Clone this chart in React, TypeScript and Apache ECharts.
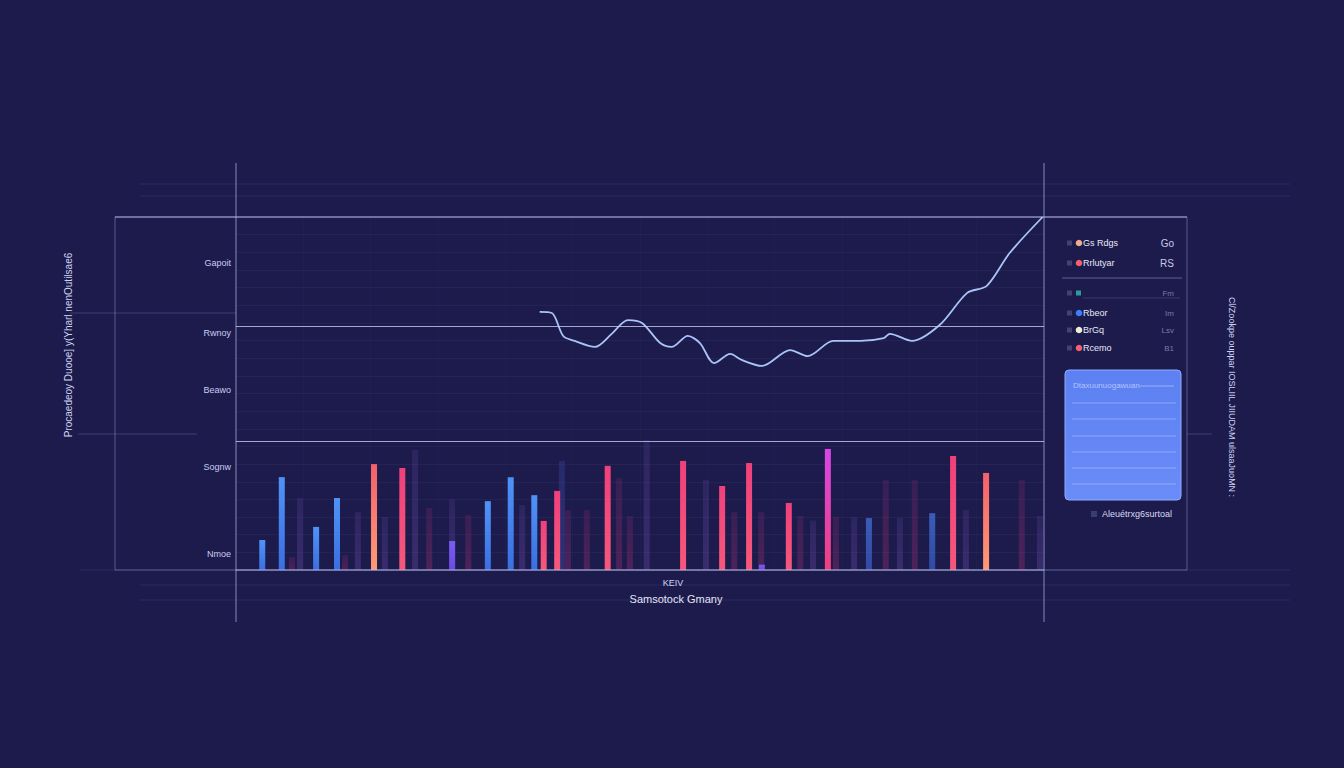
import React, { useEffect, useRef } from "react";
import * as echarts from "echarts";

// ---- data ----
const yTickValues = [87, 67, 51, 29.2, 4.5];
const yTickLabels = ["Gapoit", "Rwnoy", "Beawo", "Sognw", "Nmoe"];

const brightX = [3.9, 6.8, 11.9, 15.0, 20.5, 24.7, 32.1, 37.4, 40.8, 44.3, 45.7, 47.7, 55.2, 66.4, 72.2, 76.2, 78.1, 82.1, 87.9, 94.0, 103.4, 106.5, 111.4];
const brightV = [8.5, 26.3, 12.2, 20.4, 30.0, 28.9, 8.2, 19.5, 26.3, 21.2, 13.9, 22.4, 29.5, 30.9, 23.8, 30.3, 1.5, 19.0, 34.3, 14.7, 16.1, 32.3, 27.5];
const brightKind = ["b", "b", "b", "b", "o", "p", "v", "b", "b", "b", "p", "p", "p", "p", "p", "p", "v", "p", "m", "d", "d", "p", "o"];

const faintX = [8.3, 9.5, 16.2, 18.1, 22.1, 26.6, 28.7, 32.1, 34.5, 42.5, 48.4, 49.3, 52.1, 56.9, 58.5, 61.0, 69.8, 74.0, 78.0, 83.8, 85.7, 89.1, 91.8, 96.5, 98.6, 100.8, 108.4, 116.7, 119.4];
const faintV = [3.7, 20.4, 4.2, 16.4, 15.0, 34.0, 17.6, 20.0, 15.6, 18.4, 30.9, 17.0, 17.0, 26.0, 15.3, 36.8, 25.5, 16.4, 16.4, 15.3, 14.0, 15.0, 15.0, 25.5, 14.7, 25.5, 17.0, 25.5, 15.3];
const faintKind = ["r", "v", "r", "v", "v", "v", "r", "v", "r", "v", "n", "r", "r", "r", "r", "v", "v", "r", "r", "r", "v", "r", "v", "r", "v", "r", "v", "r", "v"];

const lineX = [45.1, 46.9, 48.6, 50.3, 53.3, 55.8, 58.2, 60.3, 63.0, 64.7, 67.1, 68.9, 71.0, 73.4, 75.1, 78.1, 82.3, 84.9, 88.7, 92.7, 96.2, 97.1, 100.4, 104.5, 108.6, 111.5, 114.9, 119.8];
const lineV = [73.1, 72.8, 66.3, 64.9, 63.2, 66.9, 70.8, 70.0, 64.3, 63.2, 66.3, 64.3, 58.6, 61.2, 59.5, 57.8, 62.3, 60.6, 64.9, 64.9, 65.7, 66.9, 64.9, 69.4, 78.5, 80.5, 89.8, 100];

const refLines = [69.1, 36.5];

const legendNames = ["Gs Rdgs", "Rrlutyar", "", "Rbeor", "BrGq", "Rcemo"];
const legendValues = ["Go", "RS", "Fm", "Im", "Lsv", "B1"];
const legendColors = ["#f4a98a", "#f0606e", "#2a9d9a", "#3d7ff5", "#f5edd0", "#f0606e"];

const titleLeft = "Procaedeoy Duooe] y(Yharl nenOutilsae6";
const titleRight = "Cl/Zookpe ouppar IOSLIIL JIIUDAM ulsaaJuoMN :";
const xName = "KEIV";
const xTitle = "Samsotock Gmany";
const boxHeader = "Dtaxuunuogawuan";
const boxCaption = "Aleuétrxg6surtoal";

const FONT = "Liberation Sans, Arial, sans-serif";

function grad(top: string, bottom: string) {
  return new echarts.graphic.LinearGradient(0, 0, 0, 1, [
    { offset: 0, color: top },
    { offset: 1, color: bottom },
  ]);
}

const brightStyles: Record<string, any> = {
  b: () => grad("#4f93f7", "#3b6fe0"),
  o: () => grad("#f5606a", "#ff9a72"),
  p: () => grad("#f0407c", "#f5587a"),
  m: () => grad("#d646e6", "#f0407c"),
  v: () => grad("#7a5cf5", "#6a4ae0"),
  d: () => grad("rgba(70,120,230,0.7)", "rgba(60,100,210,0.65)"),
};
const faintStyles: Record<string, () => any> = {
  r: () => grad("rgba(150,45,110,0.22)", "rgba(150,45,110,0.4)"),
  v: () => grad("rgba(110,75,170,0.2)", "rgba(110,75,170,0.36)"),
  n: () => grad("rgba(60,70,160,0.35)", "rgba(60,70,160,0.5)"),
};

export default function App() {
  const ref = useRef<HTMLDivElement>(null);
  useEffect(() => {
    document.body.style.margin = "0";
    const chart = echarts.init(ref.current!, null, { renderer: "svg" });
    const lineCol = "rgba(170,176,225,0.75)";
    const faintCol = "rgba(120,126,200,0.16)";
    const graphics: any[] = [];
    graphics.push({ type: "rect", shape: { x: 115, y: 217, width: 1072, height: 353 }, style: { fill: "none", stroke: "rgba(150,156,210,0.5)", lineWidth: 1 }, z: 1 });
    graphics.push({ type: "line", shape: { x1: 115, y1: 217, x2: 1187, y2: 217 }, style: { stroke: "rgba(185,190,235,0.8)", lineWidth: 1.2 }, z: 2 });
    graphics.push({ type: "line", shape: { x1: 236, y1: 163, x2: 236, y2: 622 }, style: { stroke: lineCol, lineWidth: 1 }, z: 2 });
    graphics.push({ type: "line", shape: { x1: 1044, y1: 163, x2: 1044, y2: 622 }, style: { stroke: lineCol, lineWidth: 1 }, z: 2 });
    [184, 196, 585, 600].forEach((y) => graphics.push({ type: "line", shape: { x1: 140, y1: y, x2: 1290, y2: y }, style: { stroke: faintCol, lineWidth: 1 }, z: 0 }));
    graphics.push({ type: "line", shape: { x1: 80, y1: 570, x2: 1290, y2: 570 }, style: { stroke: faintCol, lineWidth: 1 }, z: 0 });
    graphics.push({ type: "line", shape: { x1: 236, y1: 570, x2: 1044, y2: 570 }, style: { stroke: "rgba(190,195,240,0.8)", lineWidth: 1.2 }, z: 5 });
    graphics.push({ type: "line", shape: { x1: 70, y1: 313, x2: 236, y2: 313 }, style: { stroke: "rgba(120,126,200,0.35)", lineWidth: 1 }, z: 0 });
    graphics.push({ type: "line", shape: { x1: 78, y1: 434, x2: 197, y2: 434 }, style: { stroke: "rgba(120,126,200,0.35)", lineWidth: 1 }, z: 0 });
    graphics.push({ type: "line", shape: { x1: 1187, y1: 434, x2: 1212, y2: 434 }, style: { stroke: "rgba(120,126,200,0.35)", lineWidth: 1 }, z: 0 });
    graphics.push({ type: "text", x: 68, y: 345, rotation: Math.PI / 2, style: { text: titleLeft, fill: "#d0d4f2", font: `10px ${FONT}`, align: "center", verticalAlign: "middle" } });
    graphics.push({ type: "text", x: 1232, y: 397, rotation: -Math.PI / 2, style: { text: titleRight, fill: "#d0d4f2", font: `9px ${FONT}`, align: "center", verticalAlign: "middle" } });
    graphics.push({ type: "text", x: 673, y: 583, style: { text: xName, fill: "#d0d4f2", font: `9px ${FONT}`, align: "center", verticalAlign: "middle" } });
    graphics.push({ type: "text", x: 676, y: 599, style: { text: xTitle, fill: "#e4e6fa", font: `11px ${FONT}`, align: "center", verticalAlign: "middle" } });
    const ly = [243, 263, 293, 313, 330, 348];
    legendNames.forEach((n, i) => {
      graphics.push({ type: "rect", shape: { x: 1067, y: ly[i] - 2.5, width: 5, height: 5 }, style: { fill: "rgba(90,95,140,0.6)" } });
      if (i === 2) {
        graphics.push({ type: "rect", shape: { x: 1076, y: ly[i] - 2.5, width: 5, height: 5 }, style: { fill: legendColors[i] } });
      } else {
        graphics.push({ type: "circle", shape: { cx: 1079, cy: ly[i], r: 3.3 }, style: { fill: legendColors[i] } });
      }
      graphics.push({ type: "text", x: 1083, y: ly[i], style: { text: n, fill: "#e8e8f8", font: `9px ${FONT}`, verticalAlign: "middle" } });
      graphics.push({ type: "text", x: 1174, y: ly[i], style: { text: legendValues[i], fill: i < 2 ? "#c8cbe8" : "rgba(200,203,232,0.55)", font: `${i < 2 ? 10 : 8}px ${FONT}`, align: "right", verticalAlign: "middle" } });
    });
    graphics.push({ type: "line", shape: { x1: 1062, y1: 278, x2: 1182, y2: 278 }, style: { stroke: "rgba(150,156,210,0.55)", lineWidth: 1 } });
    graphics.push({ type: "line", shape: { x1: 1083, y1: 298, x2: 1180, y2: 298 }, style: { stroke: "rgba(150,156,210,0.25)", lineWidth: 1 } });
    graphics.push({ type: "rect", shape: { x: 1065, y: 370, width: 116, height: 130, r: 4 }, style: { fill: grad("#5d80f2", "#6a8cf8"), stroke: "#8fabff", lineWidth: 1 } });
    graphics.push({ type: "text", x: 1073, y: 385, style: { text: boxHeader, fill: "rgba(215,225,255,0.7)", font: `8px ${FONT}`, verticalAlign: "middle" } });
    graphics.push({ type: "line", shape: { x1: 1140, y1: 386, x2: 1174, y2: 386 }, style: { stroke: "rgba(200,215,255,0.55)", lineWidth: 1 } });
    [403, 419, 436, 452, 468, 484].forEach((y) => graphics.push({ type: "line", shape: { x1: 1072, y1: y, x2: 1176, y2: y }, style: { stroke: "rgba(190,205,255,0.5)", lineWidth: 1 } }));
    graphics.push({ type: "rect", shape: { x: 1091, y: 511, width: 6, height: 6 }, style: { fill: "rgba(90,95,140,0.5)" } });
    graphics.push({ type: "text", x: 1102, y: 514, style: { text: boxCaption, fill: "#d8daf2", font: `9px ${FONT}`, verticalAlign: "middle" } });

    const option: any = {
      animation: false,
      backgroundColor: "#1c1b4c",
      grid: { left: 236, right: 300, top: 217, bottom: 198 },
      xAxis: {
        type: "value", min: 0, max: 120, interval: 10,
        axisLine: { show: false }, axisTick: { show: false }, axisLabel: { show: false },
        splitLine: { lineStyle: { color: "rgba(130,135,210,0.04)" } },
      },
      yAxis: {
        type: "value", min: 0, max: 100, interval: 5,
        axisLine: { show: false }, axisTick: { show: false },
        axisLabel: {
          customValues: yTickValues,
          formatter: (v: number) => { const i = yTickValues.findIndex((t) => Math.abs(t - v) < 0.01); return i >= 0 ? yTickLabels[i] : ""; },
          color: "#c9cdf0", fontSize: 9, fontFamily: FONT, margin: 5,
        },
        splitLine: { lineStyle: { color: "rgba(130,135,210,0.08)" } },
      },
      series: [
        {
          type: "bar", barWidth: 6, z: 2, silent: true,
          data: faintX.map((x, i) => ({ value: [x, faintV[i]], itemStyle: { color: faintStyles[faintKind[i]]() } })),
        },
        {
          type: "bar", barWidth: 6, barGap: "-100%", z: 3, silent: true,
          data: brightX.map((x, i) => ({ value: [x, brightV[i]], itemStyle: { color: brightStyles[brightKind[i]]() } })),
          markLine: {
            silent: true, symbol: "none", label: { show: false },
            lineStyle: { color: "rgba(200,204,240,0.8)", type: "solid", width: 1 },
            data: refLines.map((v) => ({ yAxis: v })),
          },
        },
        {
          type: "line", z: 4, smooth: 0.3, showSymbol: false, silent: true,
          lineStyle: { color: "#a9c5f7", width: 1.8 },
          data: lineX.map((x, i) => [x, lineV[i]]),
        },
      ],
      graphic: graphics,
    };
    chart.setOption(option);
    return () => chart.dispose();
  }, []);
  return <div ref={ref} style={{ width: 1344, height: 768 }} />;
}
